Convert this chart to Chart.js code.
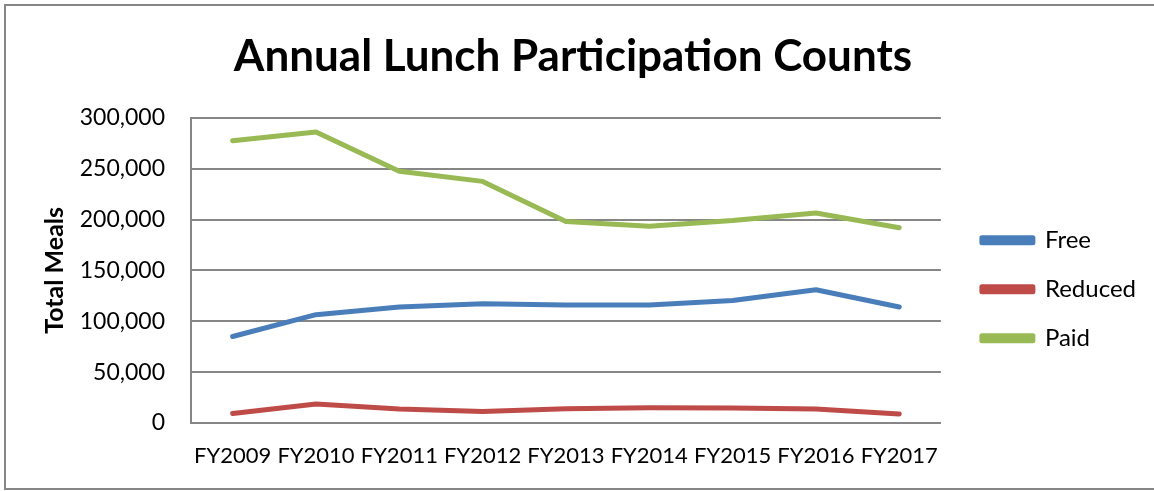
<!DOCTYPE html>
<html>
<head>
<meta charset="utf-8">
<script src="https://cdn.jsdelivr.net/npm/chart.js@4/dist/chart.umd.min.js"></script>
<style>
	body { margin: 0; background: #fff; }
	#wrap { position: relative; width: 1154px; height: 491px; }
</style>
</head>
<body>
<div id="wrap"><canvas id="line-chart" width="1154" height="491"></canvas></div>
<script>
var years = ["FY2009","FY2010","FY2011","FY2012","FY2013","FY2014","FY2015","FY2016","FY2017"];
var free = [85000, 106500, 114000, 117300, 116000, 116000, 120500, 131000, 114000];
var reduced = [9400, 18700, 13800, 11400, 14000, 15000, 14700, 13800, 8900];
var paid = [277500, 286000, 247500, 237500, 198000, 193500, 199000, 206500, 192000];
var yTicks = [0, 50000, 100000, 150000, 200000, 250000, 300000];

var frame = {
	id: 'frame',
	beforeDraw: function(chart){
		var ctx = chart.ctx;
		ctx.save();
		ctx.fillStyle = '#fff';
		ctx.fillRect(0, 0, chart.width, chart.height);
		ctx.strokeStyle = '#868686';
		ctx.lineWidth = 2;
		ctx.beginPath();
		ctx.moveTo(1154, 5);
		ctx.lineTo(5, 5);
		ctx.lineTo(5, 489);
		ctx.lineTo(1154, 489);
		ctx.stroke();
		ctx.restore();
	}
};

function mkSet(label, data, color){
	return {
		label: label,
		data: data,
		borderColor: color,
		backgroundColor: color,
		borderWidth: 5,
		pointRadius: 0,
		tension: 0,
		fill: false,
		borderCapStyle: 'round',
		borderJoinStyle: 'round'
	};
}

new Chart(document.getElementById("line-chart"), {
	type: 'line',
	data: {
		labels: years,
		datasets: [
			mkSet("Free", free, '#4a7ebb'),
			mkSet("Reduced", reduced, '#be4b48'),
			mkSet("Paid", paid, '#98b954')
		]
	},
	options: {
		responsive: false,
		animation: false,
		layout: { padding: { left: 0, right: 8, top: 0, bottom: 15 } },
		plugins: {
			title: {
				display: true,
				text: 'Annual Lunch Participation Counts',
				color: '#000',
				font: { family: 'Lato', size: 44, weight: 'bold' },
				padding: { top: 30, bottom: 35 }
			},
			legend: {
				position: 'right',
				title: {
					display: true,
					text: ' ',
					font: { family: 'Lato', size: 12 },
					padding: { top: 88, bottom: 0 }
				},
				labels: {
					color: '#000',
					font: { family: 'Lato', size: 24 },
					boxWidth: 51,
					boxHeight: 5,
					padding: 25
				}
			},
			tooltip: { enabled: false }
		},
		scales: {
			x: {
				offset: true,
				grid: { display: false, drawTicks: false },
				border: { color: '#868686', width: 2 },
				ticks: {
					color: '#000',
					font: { family: 'Lato', size: 22 },
					autoSkip: false,
					maxRotation: 0,
					padding: 20
				},
				afterFit: function(axis){ axis.height = 53; }
			},
			y: {
				min: 0,
				max: 300000,
				afterBuildTicks: function(axis){
					axis.ticks = yTicks.map(function(v){ return { value: v }; });
				},
				grid: { color: '#868686', lineWidth: 2, drawTicks: false },
				border: { color: '#868686', width: 2 },
				ticks: {
					color: '#000',
					font: { family: 'Lato', size: 23 },
					padding: 26,
					callback: function(v){ return v.toLocaleString('en-US'); }
				},
				title: {
					display: true,
					text: 'Total Meals',
					color: '#000',
					font: { family: 'Lato', size: 25, weight: 'bold' },
					padding: { top: 40, bottom: 12 }
				}
			},
			gap: {
				type: 'linear',
				position: 'right',
				grid: { display: false, drawTicks: false },
				border: { display: false },
				ticks: { display: false },
				afterFit: function(axis){ axis.width = 16; }
			}
		}
	},
	plugins: [frame]
});
</script>
</body>
</html>
